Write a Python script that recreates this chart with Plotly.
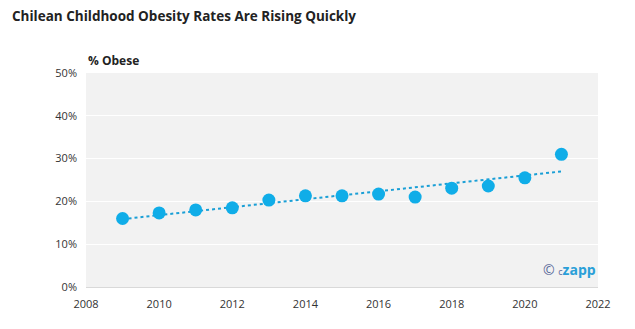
import numpy as np
import plotly.graph_objects as go

years = [2009, 2010, 2011, 2012, 2013, 2014, 2015, 2016, 2017, 2018, 2019, 2020, 2021]
obese_pct = [16.0, 17.3, 18.0, 18.5, 20.3, 21.3, 21.3, 21.7, 21.0, 23.1, 23.6, 25.5, 31.0]

# Linear trendline (as in the original spreadsheet chart)
coef = np.polyfit(years, obese_pct, 1)
trend = list(np.polyval(coef, years))

fig = go.Figure()
fig.add_trace(go.Scatter(
    x=years, y=trend, mode="lines",
    line=dict(color="#1a9fd6", width=2, dash="dot"),
    hoverinfo="skip", showlegend=False,
))
fig.add_trace(go.Scatter(
    x=years, y=obese_pct, mode="markers",
    marker=dict(color="#10ade8", size=13),
    showlegend=False,
))

fig.update_layout(
    width=635, height=329,
    margin=dict(l=86, r=37, t=73, b=42),
    paper_bgcolor="white",
    plot_bgcolor="#f2f2f2",
    font=dict(family="Open Sans", size=11, color="#333333"),
    title=dict(text="<b>Chilean Childhood Obesity Rates Are Rising Quickly</b>",
               x=12/635, xanchor="left", y=1-16/329, yanchor="middle",
               font=dict(size=13.5, color="#222222")),
    xaxis=dict(range=[2008, 2022], dtick=2, tick0=2008, showgrid=False,
               zeroline=False, showline=True, linecolor="#d9d9d9", linewidth=1,
               ticks="", ticklabelstandoff=7,
               tickfont=dict(size=11, color="#333333")),
    yaxis=dict(range=[0, 50], dtick=10, ticksuffix="%", gridcolor="white",
               gridwidth=1, zeroline=False, showline=False,
               ticks="", ticklabelstandoff=8,
               tickfont=dict(size=11, color="#333333")),
    annotations=[
        dict(text="<b>% Obese</b>", xref="paper", yref="paper", x=0, y=1,
             xanchor="left", yanchor="bottom", yshift=2, showarrow=False,
             font=dict(size=12, color="#222222")),
        dict(text="<span style='color:#5a6a9a'>©</span> <span style='font-size:9px;color:#5a6a9a'>c</span><b>zapp</b>",
             xref="paper", yref="paper", x=1, y=0.08, xanchor="right",
             yanchor="middle", showarrow=False,
             font=dict(size=14, color="#2a9fd8")),
    ],
)

fig.write_html("out.html")
